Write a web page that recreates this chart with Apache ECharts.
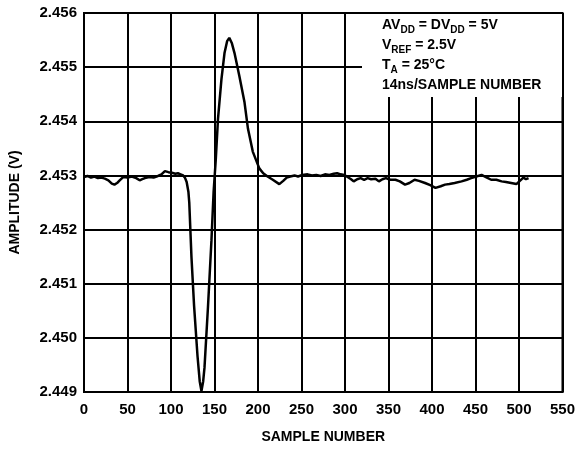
<!DOCTYPE html>
<html>
<head>
<meta charset="utf-8">
<script src="https://cdn.jsdelivr.net/npm/echarts@6/dist/echarts.min.js"></script>
<style>
  html, body { margin: 0; padding: 0; background: #fff; }
  #chart { width: 578px; height: 449px; }
</style>
</head>
<body>
<div id="chart"></div>
<script>
// sample number vs amplitude (V)
var sampleNo = [0, 4, 8, 12, 16, 20, 24, 28, 32, 35, 38, 41, 45, 50, 55, 60, 64, 67, 70, 75,
  80, 85, 89, 93, 97, 101, 105, 108, 111, 114, 116, 118, 120, 121, 123.5, 126.5, 130.5, 133, 135, 137,
  138.5, 142.5, 146.5, 149, 151.5, 154, 158, 161.5, 164.5, 167, 170, 173, 178.5, 184.5, 188.5, 194, 201.5, 206, 211, 217,
  224.5, 229, 233, 237, 242, 246, 251, 257, 262, 267, 272, 277, 282, 287, 291, 295, 299, 303, 307, 310,
  314, 318, 322, 326, 330, 335, 339, 343, 347, 352, 358, 363, 369, 374, 380, 385, 392, 398, 404, 410,
  415, 420, 426, 434, 440, 445, 451, 457, 462, 468, 474, 480, 485, 491, 497, 501, 505, 508, 511];
var amplitude = [2.45297, 2.45299, 2.45296, 2.45298, 2.45295, 2.45296, 2.45294, 2.45291, 2.45285, 2.45283, 2.45286, 2.45291, 2.45297, 2.45296, 2.45298, 2.45295, 2.45291, 2.45293, 2.45295, 2.45297,
  2.45296, 2.45299, 2.45302, 2.45308, 2.45306, 2.45305, 2.45303, 2.45304, 2.45302, 2.45300, 2.45296, 2.45288, 2.4527, 2.4525, 2.4515, 2.4506, 2.44966, 2.4492, 2.44902, 2.4492,
  2.44945, 2.45057, 2.4518, 2.4527, 2.4533, 2.45404, 2.45478, 2.45526, 2.45548, 2.45554, 2.45544, 2.45526, 2.45484, 2.45435, 2.45386, 2.45344, 2.45313, 2.45304, 2.45298, 2.45292,
  2.45284, 2.45290, 2.45296, 2.45298, 2.45300, 2.45298, 2.45301, 2.45302, 2.45300, 2.45301, 2.45299, 2.45302, 2.45301, 2.45303, 2.45304, 2.45302, 2.45301, 2.45297, 2.45293, 2.45289,
  2.45293, 2.45295, 2.45292, 2.45295, 2.45293, 2.45294, 2.45289, 2.45293, 2.45295, 2.45292, 2.45292, 2.45289, 2.45283, 2.45286, 2.45292, 2.45290, 2.45286, 2.45282, 2.45277, 2.45280,
  2.45283, 2.45284, 2.45286, 2.45289, 2.45292, 2.45295, 2.45298, 2.45301, 2.45297, 2.45292, 2.45292, 2.45289, 2.45288, 2.45286, 2.45284, 2.45290, 2.45296, 2.45293, 2.45295];

var noteLines = [
  '{b|AV}{s|DD}{b| = DV}{s|DD}{b| = 5V}',
  '{b|V}{s|REF}{b| = 2.5V}',
  '{b|T}{s|A}{b| = 25°C}',
  '{b|14ns/SAMPLE NUMBER}'
];

var font = '"Liberation Sans", Arial, sans-serif';
var chart = echarts.init(document.getElementById('chart'));

var points = [];
for (var i = 0; i < sampleNo.length; i++) {
  points.push([sampleNo[i], amplitude[i]]);
}

var option = {
  animation: false,
  backgroundColor: '#fff',
  grid: {
    left: 82, top: 13, right: 15, bottom: 53,
    show: true,
    borderColor: '#000',
    borderWidth: 2
  },
  xAxis: {
    type: 'value',
    min: 0, max: 550, interval: 50,
    name: 'SAMPLE NUMBER',
    nameLocation: 'middle',
    nameGap: 38,
    nameTextStyle: { color: '#000', fontWeight: 'bold', fontSize: 14, fontFamily: font },
    axisLine: { lineStyle: { color: '#000', width: 2 } },
    axisTick: { show: false },
    axisLabel: { color: '#000', fontWeight: 'bold', fontSize: 15, fontFamily: font, margin: 10 },
    splitLine: { show: true, lineStyle: { color: '#000', width: 2 } }
  },
  yAxis: {
    type: 'value',
    min: 2.449, max: 2.456, interval: 0.001,
    name: 'AMPLITUDE (V)',
    nameLocation: 'middle',
    nameRotate: 90,
    nameGap: 62,
    nameTextStyle: { color: '#000', fontWeight: 'bold', fontSize: 14, fontFamily: font },
    axisLine: { lineStyle: { color: '#000', width: 2 } },
    axisTick: { show: false },
    axisLabel: {
      color: '#000', fontWeight: 'bold', fontSize: 15, fontFamily: font, margin: 7,
      formatter: function (v) { return v.toFixed(3); }
    },
    splitLine: { show: true, lineStyle: { color: '#000', width: 2 } }
  },
  graphic: [
    {
      type: 'rect',
      z: 10,
      shape: { x: 362, y: 14, width: 200, height: 83 },
      style: { fill: '#fff' }
    },
    {
      type: 'text',
      z: 11,
      left: 382,
      top: 16,
      style: {
        text: noteLines.join('\n'),
        fill: '#000',
        rich: {
          b: { fontSize: 14, fontWeight: 'bold', fontFamily: font, lineHeight: 20, fill: '#000' },
          s: { fontSize: 10, fontWeight: 'bold', fontFamily: font, lineHeight: 20, fill: '#000', padding: [9, 0, 0, 0] }
        }
      }
    }
  ],
  series: [{
    type: 'line',
    data: points,
    showSymbol: false,
    z: 5,
    lineStyle: { color: '#000', width: 2.5 }
  }]
};

chart.setOption(option);
</script>
</body>
</html>
